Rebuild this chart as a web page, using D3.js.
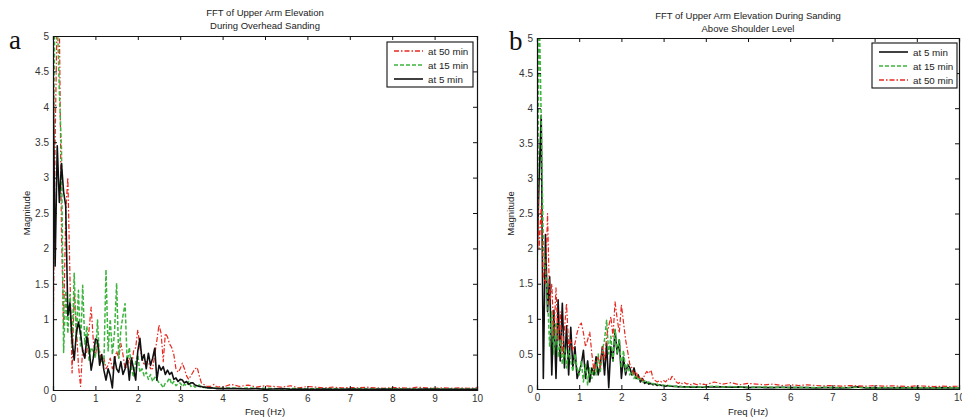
<!DOCTYPE html>
<html>
<head>
<meta charset="utf-8">
<script src="https://cdn.jsdelivr.net/npm/d3@7"></script>
<style>
  body { margin: 0; background: #fff; }
  svg { display: block; font-family: "Liberation Sans", Arial, sans-serif; }
</style>
</head>
<body>
<svg id="chart" width="962" height="418"></svg>
<script>
// frequency grid: fine part 0..4 Hz (0.05 Hz), coarse tail 4.2..10 Hz (0.2 Hz)
const freqLow  = d3.range(0, 81).map(i => i * 0.05);
const freqTail = d3.range(1, 31).map(i => 4 + i * 0.2);

const xTicks = [0, 1, 2, 3, 4, 5, 6, 7, 8, 9, 10];
const yTicks = [0, 0.5, 1, 1.5, 2, 2.5, 3, 3.5, 4, 4.5, 5];

// --- panel a: overhead sanding ---
const a5Low = [
  4.6, 1.75, 3.45, 2.65, 3.2, 2.8, 2.6, 1.05, 1.23, 0.7,
  0.42, 0.8, 0.96, 0.8, 0.55, 0.45, 0.75, 0.6, 0.28, 0.45,
  0.72, 0.7, 0.35, 0.5, 0.28, 0.14, 0.3, 0.2, 0.03, 0.47,
  0.3, 0.25, 0.4, 0.22, 0.3, 0.45, 0.14, 0.45, 0.3, 0.14,
  0.55, 0.73, 0.42, 0.5, 0.3, 0.52, 0.35, 0.45, 0.59, 0.14,
  0.35, 0.28, 0.33, 0.22, 0.28, 0.22, 0.25, 0.15, 0.17, 0.12,
  0.15, 0.14, 0.1, 0.12, 0.08, 0.1, 0.1, 0.07, 0.06, 0.05,
  0.05, 0.04, 0.04, 0.03, 0.03, 0.03, 0.025, 0.02, 0.02, 0.02,
  0.02
];
const a5Tail = [
  0.02, 0.02, 0.015, 0.02, 0.01, 0.015, 0.02, 0.01, 0.015, 0.01,
  0.01, 0.015, 0.01, 0.01, 0.015, 0.01, 0.01, 0.01, 0.015, 0.01,
  0.01, 0.01, 0.01, 0.015, 0.01, 0.01, 0.01, 0.01, 0.01, 0.01
];
const a15Low = [
  3.0, 5.6, 5.3, 4.2, 3.4, 0.53, 1.4, 0.8, 1.35, 0.6,
  1.65, 0.7, 1.41, 0.6, 1.48, 0.65, 0.9, 0.42, 0.6, 0.55,
  0.45, 0.99, 0.4, 0.45, 0.35, 1.7, 0.55, 1.0, 0.5, 0.8,
  1.51, 0.45, 0.85, 1.05, 1.22, 0.38, 0.6, 0.3, 0.18, 0.4,
  0.5, 0.25, 0.3, 0.2, 0.25, 0.15, 0.22, 0.12, 0.18, 0.15,
  0.1, 0.08, 0.03, 0.1, 0.12, 0.17, 0.08, 0.12, 0.06, 0.09,
  0.1, 0.05, 0.08, 0.06, 0.12, 0.05, 0.07, 0.04, 0.06, 0.07,
  0.03, 0.04, 0.03, 0.04, 0.03, 0.03, 0.025, 0.03, 0.025, 0.02,
  0.025
];
const a15Tail = [
  0.03, 0.02, 0.03, 0.02, 0.025, 0.02, 0.015, 0.02, 0.02, 0.015,
  0.02, 0.015, 0.02, 0.015, 0.015, 0.02, 0.015, 0.015, 0.015, 0.02,
  0.015, 0.015, 0.015, 0.015, 0.02, 0.015, 0.015, 0.015, 0.015, 0.015
];
const a50Low = [
  0.5, 3.5, 5.4, 5.2, 2.2, 0.9, 2.5, 3.0, 1.6, 0.24,
  1.37, 0.9, 0.35, 0.05, 0.6, 0.45, 0.55, 0.85, 1.17, 0.7,
  0.5, 0.65, 0.55, 0.4, 0.45, 0.3, 0.35, 0.45, 0.3, 0.4,
  0.55, 0.45, 0.66, 0.5, 0.3, 0.35, 0.45, 0.3, 0.55, 0.6,
  0.85, 0.6, 0.45, 0.35, 0.4, 0.4, 0.3, 0.3, 0.5, 0.7,
  0.92, 0.8, 0.4, 0.8, 0.75, 0.65, 0.6, 0.5, 0.3, 0.25,
  0.3, 0.38, 0.3, 0.2, 0.15, 0.2, 0.25, 0.3, 0.32, 0.2,
  0.1, 0.08, 0.06, 0.05, 0.05, 0.06, 0.08, 0.05, 0.04, 0.05,
  0.04
];
const a50Tail = [
  0.08, 0.05, 0.07, 0.04, 0.06, 0.05, 0.04, 0.06, 0.03, 0.05,
  0.04, 0.03, 0.04, 0.03, 0.035, 0.03, 0.04, 0.03, 0.025, 0.035,
  0.03, 0.025, 0.04, 0.03, 0.025, 0.03, 0.025, 0.03, 0.025, 0.03
];

// --- panel b: above shoulder level ---
const b5Low = [
  1.8, 3.0, 3.9, 0.15, 2.2, 1.1, 1.6, 0.2, 1.12, 0.15,
  1.27, 0.4, 1.22, 0.3, 0.9, 0.2, 0.88, 0.3, 0.6, 0.15,
  0.25, 0.35, 0.55, 0.15, 0.4, 0.1, 0.3, 0.2, 0.46, 0.2,
  0.35, 0.6, 0.2, 0.65, 0.02, 0.6, 0.4, 0.84, 0.5, 0.7,
  0.15, 0.45, 0.2, 0.35, 0.3, 0.2, 0.3, 0.15, 0.2, 0.1,
  0.15, 0.08, 0.1, 0.07, 0.08, 0.06, 0.07, 0.05, 0.06, 0.05,
  0.05, 0.04, 0.05, 0.04, 0.04, 0.035, 0.04, 0.03, 0.035, 0.03,
  0.03, 0.03, 0.03, 0.025, 0.03, 0.025, 0.03, 0.025, 0.025, 0.025,
  0.03
];
const b5Tail = [
  0.03, 0.03, 0.025, 0.03, 0.02, 0.025, 0.02, 0.02, 0.025, 0.02,
  0.02, 0.02, 0.015, 0.02, 0.02, 0.015, 0.02, 0.03, 0.015, 0.02,
  0.015, 0.015, 0.02, 0.015, 0.02, 0.015, 0.015, 0.02, 0.015, 0.015
];
const b15Low = [
  1.2, 5.5, 3.85, 2.0, 1.7, 1.3, 0.6, 1.1, 0.5, 0.95,
  0.45, 0.7, 0.35, 0.6, 0.3, 0.55, 0.4, 0.25, 0.5, 0.3,
  0.2, 0.4, 0.1, 0.35, 0.05, 0.3, 0.15, 0.35, 0.2, 0.5,
  0.25, 0.55, 0.7, 0.98, 0.5, 0.75, 0.4, 0.85, 0.5, 0.7,
  0.3, 0.55, 0.25, 0.35, 0.2, 0.25, 0.15, 0.2, 0.12, 0.15,
  0.1, 0.12, 0.08, 0.1, 0.07, 0.08, 0.06, 0.07, 0.05, 0.06,
  0.05, 0.05, 0.04, 0.05, 0.04, 0.04, 0.035, 0.04, 0.035, 0.03,
  0.035, 0.03, 0.03, 0.03, 0.035, 0.03, 0.03, 0.03, 0.025, 0.03,
  0.03
];
const b15Tail = [
  0.04, 0.03, 0.035, 0.03, 0.03, 0.025, 0.03, 0.025, 0.025, 0.02,
  0.025, 0.02, 0.02, 0.025, 0.02, 0.02, 0.02, 0.02, 0.02, 0.015,
  0.02, 0.02, 0.015, 0.02, 0.015, 0.02, 0.015, 0.015, 0.02, 0.015
];
const b50Low = [
  3.3, 2.0, 2.6, 1.6, 1.5, 2.5, 1.2, 1.5, 0.75, 1.44,
  0.7, 1.1, 0.5, 0.85, 1.22, 0.6, 0.7, 0.55, 0.65, 0.8,
  0.9, 0.94, 0.8, 0.6, 0.7, 0.81, 0.5, 0.25, 0.4, 0.45,
  0.3, 0.6, 0.4, 0.75, 0.9, 1.03, 0.75, 1.24, 1.0, 0.8,
  1.2, 0.95, 0.7, 0.53, 0.35, 0.3, 0.2, 0.25, 0.15, 0.18,
  0.12, 0.2, 0.25, 0.22, 0.27, 0.15, 0.12, 0.1, 0.12, 0.1,
  0.12, 0.1, 0.15, 0.12, 0.18, 0.15, 0.1, 0.08, 0.1, 0.07,
  0.09, 0.07, 0.08, 0.06, 0.08, 0.07, 0.06, 0.08, 0.06, 0.07,
  0.06
];
const b50Tail = [
  0.1, 0.07, 0.09, 0.06, 0.08, 0.07, 0.06, 0.07, 0.05, 0.06,
  0.05, 0.06, 0.05, 0.045, 0.05, 0.04, 0.05, 0.045, 0.04, 0.05,
  0.04, 0.045, 0.04, 0.035, 0.045, 0.04, 0.035, 0.04, 0.035, 0.04
];

// line styles for the three recordings
const styles = {
  "at 5 min":  { color: "#111", dash: null,      width: 1.6 },
  "at 15 min": { color: "#3db43d", dash: "4,2",   width: 1.5 },
  "at 50 min": { color: "#e8281e", dash: "5,2,1.5,2", width: 1.2 }
};

function toPoints(low, tail) {
  return freqLow.map((f, i) => ({ f, v: low[i] }))
    .concat(freqTail.map((f, i) => ({ f, v: tail[i] })));
}

const svg = d3.select("#chart");

function drawPanel(p) {
  const x = d3.scaleLinear().domain([0, 10]).range([p.x0, p.x1]);
  const y = d3.scaleLinear().domain([0, 5]).range([p.y1, p.y0]);
  const g = svg.append("g");

  g.append("clipPath").attr("id", "clip" + p.id)
    .append("rect")
    .attr("x", p.x0).attr("y", p.y0)
    .attr("width", p.x1 - p.x0).attr("height", p.y1 - p.y0);

  const line = d3.line()
    .defined(d => d.v != null)
    .x(d => x(d.f)).y(d => y(d.v));

  const plot = g.append("g").attr("clip-path", `url(#clip${p.id})`);
  p.series.forEach(s => {
    const st = styles[s.name];
    plot.append("path")
      .datum(toPoints(s.low, s.tail))
      .attr("d", line)
      .attr("fill", "none")
      .attr("stroke", st.color)
      .attr("stroke-width", st.width)
      .attr("stroke-dasharray", st.dash)
      .attr("stroke-linejoin", "round");
  });

  // axes (MATLAB-style box with inward ticks)
  const tl = 4;
  g.append("g").attr("transform", `translate(0,${p.y1})`)
    .call(d3.axisBottom(x).tickValues(xTicks).tickSize(-tl).tickPadding(5).tickFormat(d3.format("d")));
  g.append("g").attr("transform", `translate(0,${p.y0})`)
    .call(d3.axisTop(x).tickValues(xTicks).tickSize(-tl).tickFormat(""));
  g.append("g").attr("transform", `translate(${p.x0},0)`)
    .call(d3.axisLeft(y).tickValues(yTicks).tickSize(-tl).tickPadding(4).tickFormat(d3.format("")));
  g.append("g").attr("transform", `translate(${p.x1},0)`)
    .call(d3.axisRight(y).tickValues(yTicks).tickSize(-tl).tickFormat(""));

  g.selectAll(".domain").attr("stroke", "#111").attr("stroke-width", 1.2);
  g.selectAll(".tick line").attr("stroke", "#111");
  g.selectAll(".tick text").attr("fill", "#333").style("font-size", "10px")
    .style("font-family", "'Liberation Sans', Arial, sans-serif");

  // title
  p.title.forEach((t, i) => {
    g.append("text")
      .attr("x", (p.x0 + p.x1) / 2).attr("y", p.titleY + i * 12.6)
      .attr("text-anchor", "middle")
      .style("font-size", "9.5px").attr("fill", "#222")
      .text(t);
  });

  // axis labels
  g.append("text")
    .attr("x", (p.x0 + p.x1) / 2).attr("y", 415)
    .attr("text-anchor", "middle").style("font-size", "9.5px").attr("fill", "#222")
    .text("Freq (Hz)");
  g.append("text")
    .attr("transform", `translate(${p.x0 - 23},${(p.y0 + p.y1) / 2}) rotate(-90)`)
    .attr("text-anchor", "middle").style("font-size", "9.5px").attr("fill", "#222")
    .text("Magnitude");

  // panel letter
  g.append("text")
    .attr("x", p.letterX).attr("y", p.letterY)
    .style("font-family", "'Liberation Serif', 'DejaVu Serif', serif")
    .style("font-size", "27px").attr("fill", "#111")
    .text(p.letter);

  // legend
  const lg = p.legend;
  g.append("rect")
    .attr("x", lg.x).attr("y", lg.y).attr("width", lg.w).attr("height", lg.h)
    .attr("fill", "#fff").attr("stroke", "#111").attr("stroke-width", 1.1);
  lg.order.forEach((name, i) => {
    const st = styles[name];
    const cy = Math.round(lg.y + 8.5 + i * 14);
    g.append("line")
      .attr("x1", lg.x + 7).attr("x2", lg.x + 36)
      .attr("y1", cy).attr("y2", cy)
      .attr("stroke", st.color).attr("stroke-width", Math.max(st.width, 1.4))
      .attr("stroke-dasharray", st.dash);
    g.append("text")
      .attr("x", lg.x + 41).attr("y", cy + 3.5)
      .style("font-size", "9.8px").attr("fill", "#222")
      .text(name);
  });
}

drawPanel({
  id: "a", letter: "a", letterX: 9, letterY: 49,
  x0: 53, x1: 477, y0: 36, y1: 390, titleY: 16,
  title: ["FFT of Upper Arm Elevation", "During Overhead Sanding"],
  series: [
    { name: "at 50 min", low: a50Low, tail: a50Tail },
    { name: "at 15 min", low: a15Low, tail: a15Tail },
    { name: "at 5 min",  low: a5Low,  tail: a5Tail }
  ],
  legend: { x: 387, y: 42, w: 86, h: 45, order: ["at 50 min", "at 15 min", "at 5 min"] }
});

drawPanel({
  id: "b", letter: "b", letterX: 509, letterY: 50,
  x0: 537, x1: 959, y0: 38, y1: 389, titleY: 19,
  title: ["FFT of Upper Arm Elevation During Sanding", "Above Shoulder Level"],
  series: [
    { name: "at 5 min",  low: b5Low,  tail: b5Tail },
    { name: "at 15 min", low: b15Low, tail: b15Tail },
    { name: "at 50 min", low: b50Low, tail: b50Tail }
  ],
  legend: { x: 872, y: 43, w: 85, h: 45, order: ["at 5 min", "at 15 min", "at 50 min"] }
});
</script>
</body>
</html>
